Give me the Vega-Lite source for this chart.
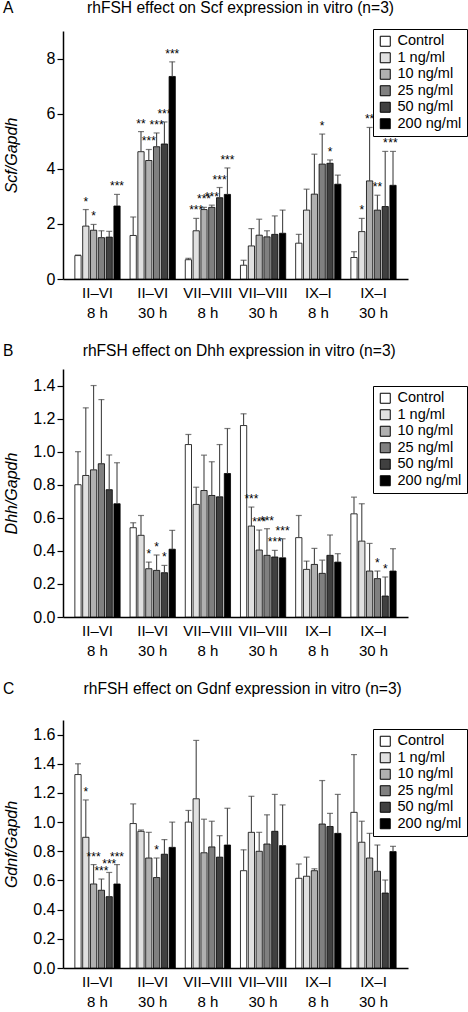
{
  "$schema": "https://vega.github.io/schema/vega-lite/v6.json",
  "padding": {"left": 3, "top": 0, "right": 0, "bottom": 0},
  "spacing": 24,
  "config": {
    "font": "Liberation Sans",
    "view": {"stroke": null},
    "title": {"fontSize": 15.6, "fontWeight": "normal", "anchor": "start", "frame": "bounds", "color": "black"},
    "axis": {"domainColor": "black", "domainWidth": 1.5, "tickColor": "black", "labelColor": "black", "titleColor": "black", "grid": false},
    "axisX": {"labelExpr": "split(datum.value, '|')", "labelAngle": 0, "ticks": false, "labelFontSize": 15, "labelLineHeight": 20, "labelPadding": 6, "title": null},
    "axisY": {"tickSize": 6, "tickWidth": 1.2, "labelFontSize": 16, "labelPadding": 2, "labelOverlap": false, "labelSeparation": 0, "titleFontStyle": "italic", "titleFontSize": 16, "titleFontWeight": "normal", "titleX": -60, "titleBaseline": "top", "titleAngle": -90},
    "legend": {"title": null, "orient": "none", "legendX": 310, "strokeColor": "black", "fillColor": "white", "padding": 5, "symbolType": "square", "symbolSize": 100, "symbolStrokeColor": "black", "symbolStrokeWidth": 1, "labelFontSize": 14.5, "rowPadding": 0.5, "labelOffset": 5, "labelColor": "black"}
  },
  "datasets": {
    "d": [
      {"panel": "A", "grp": "II–VI|8 h", "dose": "Control", "mean": 0.85, "hi": 0.87, "sig": ""},
      {"panel": "A", "grp": "II–VI|8 h", "dose": "1 ng/ml", "mean": 1.92, "hi": 2.52, "sig": "*"},
      {"panel": "A", "grp": "II–VI|8 h", "dose": "10 ng/ml", "mean": 1.77, "hi": 1.98, "sig": "*"},
      {"panel": "A", "grp": "II–VI|8 h", "dose": "25 ng/ml", "mean": 1.5, "hi": 1.75, "sig": ""},
      {"panel": "A", "grp": "II–VI|8 h", "dose": "50 ng/ml", "mean": 1.52, "hi": 1.73, "sig": ""},
      {"panel": "A", "grp": "II–VI|8 h", "dose": "200 ng/ml", "mean": 2.65, "hi": 3.07, "sig": "***"},
      {"panel": "A", "grp": "II–VI|30 h", "dose": "Control", "mean": 1.58, "hi": 2.25, "sig": ""},
      {"panel": "A", "grp": "II–VI|30 h", "dose": "1 ng/ml", "mean": 4.62, "hi": 5.35, "sig": "**"},
      {"panel": "A", "grp": "II–VI|30 h", "dose": "10 ng/ml", "mean": 4.3, "hi": 4.7, "sig": "***"},
      {"panel": "A", "grp": "II–VI|30 h", "dose": "25 ng/ml", "mean": 4.8, "hi": 5.3, "sig": "***"},
      {"panel": "A", "grp": "II–VI|30 h", "dose": "50 ng/ml", "mean": 4.9, "hi": 5.7, "sig": "***"},
      {"panel": "A", "grp": "II–VI|30 h", "dose": "200 ng/ml", "mean": 7.35, "hi": 7.88, "sig": "***"},
      {"panel": "A", "grp": "VII–VIII|8 h", "dose": "Control", "mean": 0.7, "hi": 0.75, "sig": ""},
      {"panel": "A", "grp": "VII–VIII|8 h", "dose": "1 ng/ml", "mean": 1.75, "hi": 2.2, "sig": "***"},
      {"panel": "A", "grp": "VII–VIII|8 h", "dose": "10 ng/ml", "mean": 2.52, "hi": 2.6, "sig": "***"},
      {"panel": "A", "grp": "VII–VIII|8 h", "dose": "25 ng/ml", "mean": 2.6, "hi": 2.68, "sig": "***"},
      {"panel": "A", "grp": "VII–VIII|8 h", "dose": "50 ng/ml", "mean": 2.95, "hi": 3.32, "sig": "***"},
      {"panel": "A", "grp": "VII–VIII|8 h", "dose": "200 ng/ml", "mean": 3.07, "hi": 4.03, "sig": "***"},
      {"panel": "A", "grp": "VII–VIII|30 h", "dose": "Control", "mean": 0.5, "hi": 0.68, "sig": ""},
      {"panel": "A", "grp": "VII–VIII|30 h", "dose": "1 ng/ml", "mean": 1.2, "hi": 1.83, "sig": ""},
      {"panel": "A", "grp": "VII–VIII|30 h", "dose": "10 ng/ml", "mean": 1.59, "hi": 2.17, "sig": ""},
      {"panel": "A", "grp": "VII–VIII|30 h", "dose": "25 ng/ml", "mean": 1.53, "hi": 1.75, "sig": ""},
      {"panel": "A", "grp": "VII–VIII|30 h", "dose": "50 ng/ml", "mean": 1.62, "hi": 2.29, "sig": ""},
      {"panel": "A", "grp": "VII–VIII|30 h", "dose": "200 ng/ml", "mean": 1.66, "hi": 2.5, "sig": ""},
      {"panel": "A", "grp": "IX–I|8 h", "dose": "Control", "mean": 1.3, "hi": 1.62, "sig": ""},
      {"panel": "A", "grp": "IX–I|8 h", "dose": "1 ng/ml", "mean": 2.5, "hi": 3.26, "sig": ""},
      {"panel": "A", "grp": "IX–I|8 h", "dose": "10 ng/ml", "mean": 3.08, "hi": 4.53, "sig": ""},
      {"panel": "A", "grp": "IX–I|8 h", "dose": "25 ng/ml", "mean": 4.17, "hi": 5.26, "sig": "*"},
      {"panel": "A", "grp": "IX–I|8 h", "dose": "50 ng/ml", "mean": 4.2, "hi": 4.32, "sig": "*"},
      {"panel": "A", "grp": "IX–I|8 h", "dose": "200 ng/ml", "mean": 3.44, "hi": 3.77, "sig": ""},
      {"panel": "A", "grp": "IX–I|30 h", "dose": "Control", "mean": 0.78, "hi": 0.99, "sig": ""},
      {"panel": "A", "grp": "IX–I|30 h", "dose": "1 ng/ml", "mean": 1.72, "hi": 2.2, "sig": "*"},
      {"panel": "A", "grp": "IX–I|30 h", "dose": "10 ng/ml", "mean": 3.56, "hi": 5.5, "sig": "**"},
      {"panel": "A", "grp": "IX–I|30 h", "dose": "25 ng/ml", "mean": 2.5, "hi": 3.04, "sig": "**"},
      {"panel": "A", "grp": "IX–I|30 h", "dose": "50 ng/ml", "mean": 2.63, "hi": 4.63, "sig": "*"},
      {"panel": "A", "grp": "IX–I|30 h", "dose": "200 ng/ml", "mean": 3.4, "hi": 4.63, "sig": "**"},

      {"panel": "B", "grp": "II–VI|8 h", "dose": "Control", "mean": 0.80, "hi": 1.0, "sig": ""},
      {"panel": "B", "grp": "II–VI|8 h", "dose": "1 ng/ml", "mean": 0.856, "hi": 1.265, "sig": ""},
      {"panel": "B", "grp": "II–VI|8 h", "dose": "10 ng/ml", "mean": 0.89, "hi": 1.40, "sig": ""},
      {"panel": "B", "grp": "II–VI|8 h", "dose": "25 ng/ml", "mean": 0.927, "hi": 1.315, "sig": ""},
      {"panel": "B", "grp": "II–VI|8 h", "dose": "50 ng/ml", "mean": 0.77, "hi": 0.98, "sig": ""},
      {"panel": "B", "grp": "II–VI|8 h", "dose": "200 ng/ml", "mean": 0.685, "hi": 0.933, "sig": ""},
      {"panel": "B", "grp": "II–VI|30 h", "dose": "Control", "mean": 0.54, "hi": 0.57, "sig": ""},
      {"panel": "B", "grp": "II–VI|30 h", "dose": "1 ng/ml", "mean": 0.494, "hi": 0.614, "sig": ""},
      {"panel": "B", "grp": "II–VI|30 h", "dose": "10 ng/ml", "mean": 0.292, "hi": 0.332, "sig": "*"},
      {"panel": "B", "grp": "II–VI|30 h", "dose": "25 ng/ml", "mean": 0.282, "hi": 0.375, "sig": "*"},
      {"panel": "B", "grp": "II–VI|30 h", "dose": "50 ng/ml", "mean": 0.268, "hi": 0.312, "sig": "*"},
      {"panel": "B", "grp": "II–VI|30 h", "dose": "200 ng/ml", "mean": 0.41, "hi": 0.524, "sig": ""},
      {"panel": "B", "grp": "VII–VIII|8 h", "dose": "Control", "mean": 1.043, "hi": 1.104, "sig": ""},
      {"panel": "B", "grp": "VII–VIII|8 h", "dose": "1 ng/ml", "mean": 0.681, "hi": 0.785, "sig": ""},
      {"panel": "B", "grp": "VII–VIII|8 h", "dose": "10 ng/ml", "mean": 0.765, "hi": 0.979, "sig": ""},
      {"panel": "B", "grp": "VII–VIII|8 h", "dose": "25 ng/ml", "mean": 0.735, "hi": 0.939, "sig": ""},
      {"panel": "B", "grp": "VII–VIII|8 h", "dose": "50 ng/ml", "mean": 0.727, "hi": 1.043, "sig": ""},
      {"panel": "B", "grp": "VII–VIII|8 h", "dose": "200 ng/ml", "mean": 0.868, "hi": 1.14, "sig": ""},
      {"panel": "B", "grp": "VII–VIII|30 h", "dose": "Control", "mean": 1.158, "hi": 1.229, "sig": ""},
      {"panel": "B", "grp": "VII–VIII|30 h", "dose": "1 ng/ml", "mean": 0.55, "hi": 0.665, "sig": "***"},
      {"panel": "B", "grp": "VII–VIII|30 h", "dose": "10 ng/ml", "mean": 0.405, "hi": 0.526, "sig": "***"},
      {"panel": "B", "grp": "VII–VIII|30 h", "dose": "25 ng/ml", "mean": 0.373, "hi": 0.534, "sig": "***"},
      {"panel": "B", "grp": "VII–VIII|30 h", "dose": "50 ng/ml", "mean": 0.363, "hi": 0.403, "sig": "***"},
      {"panel": "B", "grp": "VII–VIII|30 h", "dose": "200 ng/ml", "mean": 0.358, "hi": 0.473, "sig": "***"},
      {"panel": "B", "grp": "IX–I|8 h", "dose": "Control", "mean": 0.48, "hi": 0.614, "sig": ""},
      {"panel": "B", "grp": "IX–I|8 h", "dose": "1 ng/ml", "mean": 0.288, "hi": 0.338, "sig": ""},
      {"panel": "B", "grp": "IX–I|8 h", "dose": "10 ng/ml", "mean": 0.318, "hi": 0.415, "sig": ""},
      {"panel": "B", "grp": "IX–I|8 h", "dose": "25 ng/ml", "mean": 0.264, "hi": 0.344, "sig": ""},
      {"panel": "B", "grp": "IX–I|8 h", "dose": "50 ng/ml", "mean": 0.373, "hi": 0.496, "sig": ""},
      {"panel": "B", "grp": "IX–I|8 h", "dose": "200 ng/ml", "mean": 0.332, "hi": 0.383, "sig": ""},
      {"panel": "B", "grp": "IX–I|30 h", "dose": "Control", "mean": 0.624, "hi": 0.725, "sig": ""},
      {"panel": "B", "grp": "IX–I|30 h", "dose": "1 ng/ml", "mean": 0.459, "hi": 0.685, "sig": ""},
      {"panel": "B", "grp": "IX–I|30 h", "dose": "10 ng/ml", "mean": 0.278, "hi": 0.445, "sig": ""},
      {"panel": "B", "grp": "IX–I|30 h", "dose": "25 ng/ml", "mean": 0.232, "hi": 0.278, "sig": "*"},
      {"panel": "B", "grp": "IX–I|30 h", "dose": "50 ng/ml", "mean": 0.127, "hi": 0.242, "sig": "*"},
      {"panel": "B", "grp": "IX–I|30 h", "dose": "200 ng/ml", "mean": 0.278, "hi": 0.413, "sig": ""},

      {"panel": "C", "grp": "II–VI|8 h", "dose": "Control", "mean": 1.326, "hi": 1.40, "sig": ""},
      {"panel": "C", "grp": "II–VI|8 h", "dose": "1 ng/ml", "mean": 0.896, "hi": 1.152, "sig": "*"},
      {"panel": "C", "grp": "II–VI|8 h", "dose": "10 ng/ml", "mean": 0.576, "hi": 0.709, "sig": "***"},
      {"panel": "C", "grp": "II–VI|8 h", "dose": "25 ng/ml", "mean": 0.533, "hi": 0.61, "sig": "***"},
      {"panel": "C", "grp": "II–VI|8 h", "dose": "50 ng/ml", "mean": 0.489, "hi": 0.655, "sig": "***"},
      {"panel": "C", "grp": "II–VI|8 h", "dose": "200 ng/ml", "mean": 0.576, "hi": 0.709, "sig": "***"},
      {"panel": "C", "grp": "II–VI|30 h", "dose": "Control", "mean": 0.99, "hi": 1.125, "sig": ""},
      {"panel": "C", "grp": "II–VI|30 h", "dose": "1 ng/ml", "mean": 0.937, "hi": 0.946, "sig": ""},
      {"panel": "C", "grp": "II–VI|30 h", "dose": "10 ng/ml", "mean": 0.754, "hi": 0.93, "sig": ""},
      {"panel": "C", "grp": "II–VI|30 h", "dose": "25 ng/ml", "mean": 0.62, "hi": 0.754, "sig": "*"},
      {"panel": "C", "grp": "II–VI|30 h", "dose": "50 ng/ml", "mean": 0.78, "hi": 0.88, "sig": ""},
      {"panel": "C", "grp": "II–VI|30 h", "dose": "200 ng/ml", "mean": 0.827, "hi": 1.0, "sig": ""},
      {"panel": "C", "grp": "VII–VIII|8 h", "dose": "Control", "mean": 1.0, "hi": 1.08, "sig": ""},
      {"panel": "C", "grp": "VII–VIII|8 h", "dose": "1 ng/ml", "mean": 1.16, "hi": 1.56, "sig": ""},
      {"panel": "C", "grp": "VII–VIII|8 h", "dose": "10 ng/ml", "mean": 0.79, "hi": 1.02, "sig": ""},
      {"panel": "C", "grp": "VII–VIII|8 h", "dose": "25 ng/ml", "mean": 0.83, "hi": 1.006, "sig": ""},
      {"panel": "C", "grp": "VII–VIII|8 h", "dose": "50 ng/ml", "mean": 0.76, "hi": 0.907, "sig": ""},
      {"panel": "C", "grp": "VII–VIII|8 h", "dose": "200 ng/ml", "mean": 0.843, "hi": 1.095, "sig": ""},
      {"panel": "C", "grp": "VII–VIII|30 h", "dose": "Control", "mean": 0.667, "hi": 0.81, "sig": ""},
      {"panel": "C", "grp": "VII–VIII|30 h", "dose": "1 ng/ml", "mean": 0.93, "hi": 1.177, "sig": ""},
      {"panel": "C", "grp": "VII–VIII|30 h", "dose": "10 ng/ml", "mean": 0.8, "hi": 0.93, "sig": ""},
      {"panel": "C", "grp": "VII–VIII|30 h", "dose": "25 ng/ml", "mean": 0.85, "hi": 1.05, "sig": ""},
      {"panel": "C", "grp": "VII–VIII|30 h", "dose": "50 ng/ml", "mean": 0.937, "hi": 1.19, "sig": ""},
      {"panel": "C", "grp": "VII–VIII|30 h", "dose": "200 ng/ml", "mean": 0.839, "hi": 1.118, "sig": ""},
      {"panel": "C", "grp": "IX–I|8 h", "dose": "Control", "mean": 0.615, "hi": 0.713, "sig": ""},
      {"panel": "C", "grp": "IX–I|8 h", "dose": "1 ng/ml", "mean": 0.629, "hi": 0.76, "sig": ""},
      {"panel": "C", "grp": "IX–I|8 h", "dose": "10 ng/ml", "mean": 0.667, "hi": 0.68, "sig": ""},
      {"panel": "C", "grp": "IX–I|8 h", "dose": "25 ng/ml", "mean": 0.987, "hi": 1.285, "sig": ""},
      {"panel": "C", "grp": "IX–I|8 h", "dose": "50 ng/ml", "mean": 0.97, "hi": 1.06, "sig": ""},
      {"panel": "C", "grp": "IX–I|8 h", "dose": "200 ng/ml", "mean": 0.923, "hi": 1.19, "sig": ""},
      {"panel": "C", "grp": "IX–I|30 h", "dose": "Control", "mean": 1.067, "hi": 1.463, "sig": ""},
      {"panel": "C", "grp": "IX–I|30 h", "dose": "1 ng/ml", "mean": 0.862, "hi": 1.006, "sig": ""},
      {"panel": "C", "grp": "IX–I|30 h", "dose": "10 ng/ml", "mean": 0.754, "hi": 0.923, "sig": ""},
      {"panel": "C", "grp": "IX–I|30 h", "dose": "25 ng/ml", "mean": 0.663, "hi": 0.843, "sig": ""},
      {"panel": "C", "grp": "IX–I|30 h", "dose": "50 ng/ml", "mean": 0.514, "hi": 0.603, "sig": ""},
      {"panel": "C", "grp": "IX–I|30 h", "dose": "200 ng/ml", "mean": 0.798, "hi": 0.834, "sig": ""}
    ]
  },
  "vconcat": [
    {
      "width": 345, "height": 248,
      "title": {"text": "A\u00a0\u00a0\u00a0\u00a0\u00a0\u00a0\u00a0\u00a0\u00a0\u00a0\u00a0\u00a0\u00a0\u00a0\u00a0\u00a0\u00a0rhFSH effect on Scf expression in vitro (n=3)", "offset": 12},
      "data": {"name": "d"},
      "transform": [{"filter": "datum.panel === 'A'"}],
      "encoding": {
        "x": {"field": "grp", "type": "nominal", "sort": null, "scale": {"paddingInner": 0.18, "paddingOuter": 0.215}},
        "xOffset": {"field": "dose", "type": "nominal", "sort": ["Control", "1 ng/ml", "10 ng/ml", "25 ng/ml", "50 ng/ml", "200 ng/ml"], "scale": {"paddingInner": 0.2}}
      },
      "layer": [
        {"mark": {"type": "bar", "stroke": "black", "strokeWidth": 0.8},
         "encoding": {
           "y": {"field": "mean", "type": "quantitative", "title": "Scf/Gapdh", "scale": {"domain": [0, 9], "nice": false}, "axis": {"values": [0, 2, 4, 6, 8], "labelOverlap": false}},
           "color": {"field": "dose", "type": "nominal", "sort": ["Control", "1 ng/ml", "10 ng/ml", "25 ng/ml", "50 ng/ml", "200 ng/ml"], "scale": {"range": ["#ffffff", "#e0e0e0", "#b0b0b0", "#808080", "#404040", "#000000"]}, "legend": {"legendY": -2}}
         }},
        {"mark": {"type": "rule", "color": "#444444", "strokeWidth": 1.1},
         "encoding": {"y": {"field": "mean", "type": "quantitative", "title": "Scf/Gapdh", "axis": {"values": [0, 2, 4, 6, 8], "labelOverlap": false}}, "y2": {"field": "hi"}}},
        {"mark": {"type": "tick", "orient": "horizontal", "size": 6, "thickness": 1.2, "color": "#444444"},
         "encoding": {"y": {"field": "hi", "type": "quantitative", "title": "Scf/Gapdh", "axis": {"values": [0, 2, 4, 6, 8], "labelOverlap": false}}}},
        {"mark": {"type": "text", "baseline": "bottom", "dy": -1, "fontSize": 12, "fill": "#000000"},
         "encoding": {"y": {"field": "hi", "type": "quantitative", "title": "Scf/Gapdh", "axis": {"values": [0, 2, 4, 6, 8], "labelOverlap": false}}, "text": {"field": "sig"}}}
      ]
    },
    {
      "width": 345, "height": 248,
      "title": {"text": "B\u00a0\u00a0\u00a0\u00a0\u00a0\u00a0\u00a0\u00a0\u00a0\u00a0\u00a0\u00a0\u00a0\u00a0\u00a0\u00a0rhFSH effect on Dhh expression in vitro (n=3)", "offset": 9},
      "data": {"name": "d"},
      "transform": [{"filter": "datum.panel === 'B'"}],
      "encoding": {
        "x": {"field": "grp", "type": "nominal", "sort": null, "scale": {"paddingInner": 0.18, "paddingOuter": 0.215}},
        "xOffset": {"field": "dose", "type": "nominal", "sort": ["Control", "1 ng/ml", "10 ng/ml", "25 ng/ml", "50 ng/ml", "200 ng/ml"], "scale": {"paddingInner": 0.2}}
      },
      "layer": [
        {"mark": {"type": "bar", "stroke": "black", "strokeWidth": 0.8},
         "encoding": {
           "y": {"field": "mean", "type": "quantitative", "title": "Dhh/Gapdh", "scale": {"domain": [0, 1.5], "nice": false}, "axis": {"values": [0, 0.2, 0.4, 0.6, 0.8, 1.0, 1.2, 1.4], "format": ".1f", "labelOverlap": false}},
           "color": {"field": "dose", "type": "nominal", "sort": ["Control", "1 ng/ml", "10 ng/ml", "25 ng/ml", "50 ng/ml", "200 ng/ml"], "scale": {"range": ["#ffffff", "#e0e0e0", "#b0b0b0", "#808080", "#404040", "#000000"]}, "legend": {"legendY": 17}}
         }},
        {"mark": {"type": "rule", "color": "#444444", "strokeWidth": 1.1},
         "encoding": {"y": {"field": "mean", "type": "quantitative", "title": "Dhh/Gapdh", "axis": {"values": [0, 0.2, 0.4, 0.6, 0.8, 1.0, 1.2, 1.4], "format": ".1f", "labelOverlap": false}}, "y2": {"field": "hi"}}},
        {"mark": {"type": "tick", "orient": "horizontal", "size": 6, "thickness": 1.2, "color": "#444444"},
         "encoding": {"y": {"field": "hi", "type": "quantitative", "title": "Dhh/Gapdh", "axis": {"values": [0, 0.2, 0.4, 0.6, 0.8, 1.0, 1.2, 1.4], "format": ".1f", "labelOverlap": false}}}},
        {"mark": {"type": "text", "baseline": "bottom", "dy": -1, "fontSize": 12, "fill": "#000000"},
         "encoding": {"y": {"field": "hi", "type": "quantitative", "title": "Dhh/Gapdh", "axis": {"values": [0, 0.2, 0.4, 0.6, 0.8, 1.0, 1.2, 1.4], "format": ".1f", "labelOverlap": false}}, "text": {"field": "sig"}}}
      ]
    },
    {
      "width": 345, "height": 248,
      "title": {"text": "C\u00a0\u00a0\u00a0\u00a0\u00a0\u00a0\u00a0\u00a0\u00a0\u00a0\u00a0\u00a0\u00a0\u00a0\u00a0\u00a0rhFSH effect on Gdnf expression in vitro (n=3)", "offset": 22},
      "data": {"name": "d"},
      "transform": [{"filter": "datum.panel === 'C'"}],
      "encoding": {
        "x": {"field": "grp", "type": "nominal", "sort": null, "scale": {"paddingInner": 0.18, "paddingOuter": 0.215}},
        "xOffset": {"field": "dose", "type": "nominal", "sort": ["Control", "1 ng/ml", "10 ng/ml", "25 ng/ml", "50 ng/ml", "200 ng/ml"], "scale": {"paddingInner": 0.2}}
      },
      "layer": [
        {"mark": {"type": "bar", "stroke": "black", "strokeWidth": 0.8},
         "encoding": {
           "y": {"field": "mean", "type": "quantitative", "title": "Gdnf/Gapdh", "scale": {"domain": [0, 1.7], "nice": false}, "axis": {"values": [0, 0.2, 0.4, 0.6, 0.8, 1.0, 1.2, 1.4, 1.6], "format": ".1f", "labelOverlap": false}},
           "color": {"field": "dose", "type": "nominal", "sort": ["Control", "1 ng/ml", "10 ng/ml", "25 ng/ml", "50 ng/ml", "200 ng/ml"], "scale": {"range": ["#ffffff", "#e0e0e0", "#b0b0b0", "#808080", "#404040", "#000000"]}, "legend": {"legendY": 9}}
         }},
        {"mark": {"type": "rule", "color": "#444444", "strokeWidth": 1.1},
         "encoding": {"y": {"field": "mean", "type": "quantitative", "title": "Gdnf/Gapdh", "axis": {"values": [0, 0.2, 0.4, 0.6, 0.8, 1.0, 1.2, 1.4, 1.6], "format": ".1f", "labelOverlap": false}}, "y2": {"field": "hi"}}},
        {"mark": {"type": "tick", "orient": "horizontal", "size": 6, "thickness": 1.2, "color": "#444444"},
         "encoding": {"y": {"field": "hi", "type": "quantitative", "title": "Gdnf/Gapdh", "axis": {"values": [0, 0.2, 0.4, 0.6, 0.8, 1.0, 1.2, 1.4, 1.6], "format": ".1f", "labelOverlap": false}}}},
        {"mark": {"type": "text", "baseline": "bottom", "dy": -1, "fontSize": 12, "fill": "#000000"},
         "encoding": {"y": {"field": "hi", "type": "quantitative", "title": "Gdnf/Gapdh", "axis": {"values": [0, 0.2, 0.4, 0.6, 0.8, 1.0, 1.2, 1.4, 1.6], "format": ".1f", "labelOverlap": false}}, "text": {"field": "sig"}}}
      ]
    }
  ],
  "resolve": {"scale": {"color": "independent", "y": "independent"}, "legend": {"color": "independent"}}
}
